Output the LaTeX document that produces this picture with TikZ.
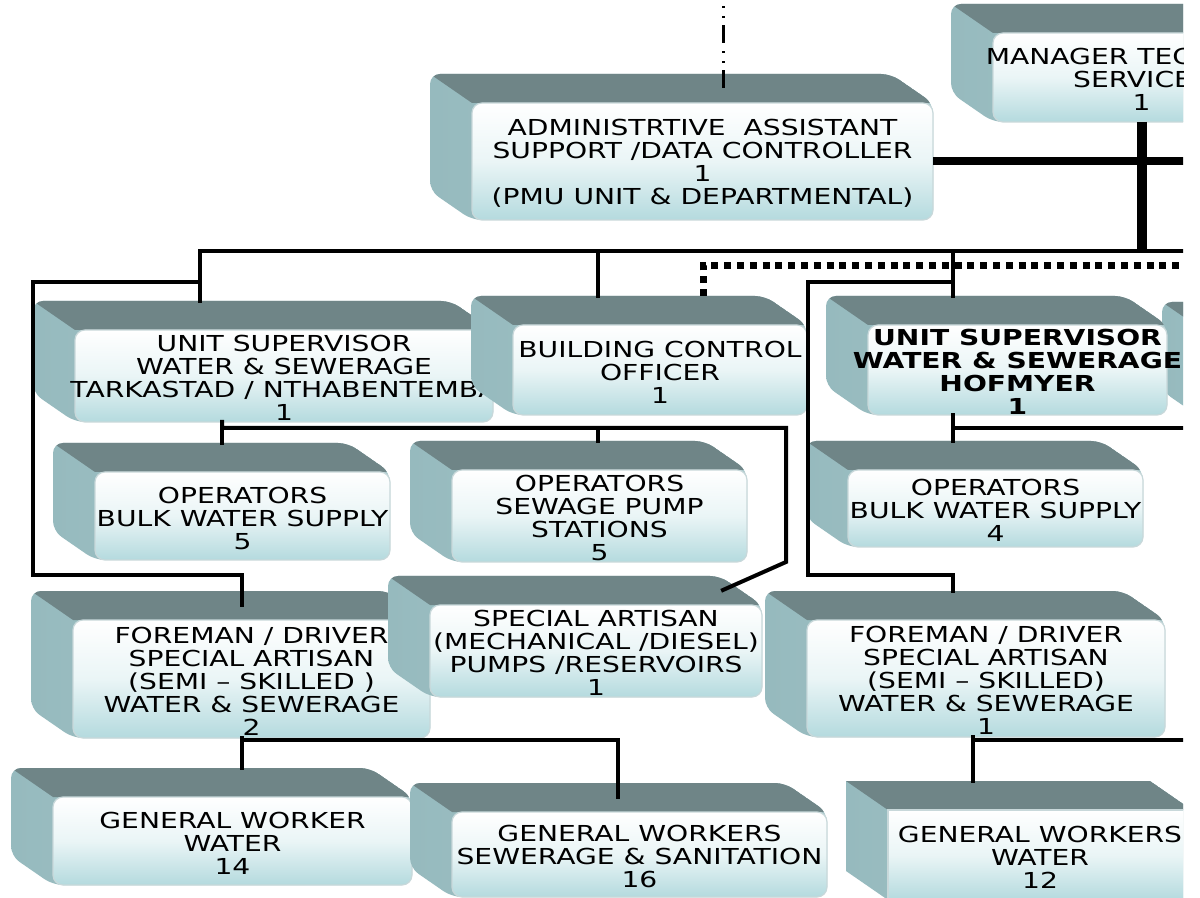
\documentclass[tikz,border=0pt]{standalone}
\usepackage{fontspec}
\setmainfont{DejaVu Sans}[FakeStretch=1.28]

% face colours of the extruded boxes
\definecolor{topface}{RGB}{111,133,135}
\definecolor{sideL}{RGB}{150,186,190}
\definecolor{sideR}{RGB}{170,200,203}
\definecolor{frontmid}{RGB}{234,245,246}
\definecolor{frontbot}{RGB}{180,218,222}
\definecolor{frontedge}{RGB}{200,216,218}

\tikzset{
  frontface/.style={top color=white, bottom color=frontbot, middle color=frontmid,
    draw=frontedge, line width=0.6pt, inner sep=0pt, outer sep=0pt},
  boxtext/.style={align=center, inner sep=0pt, text=black, yshift=-1pt,
    font=\fontsize{11pt}{11.5pt}\selectfont},
  conn/.style={line width=2pt, line cap=rect},
  heavy/.style={line width=4pt},
  heavier/.style={line width=5pt},
  dashdotline/.style={line width=1.5pt,
    dash pattern=on 9pt off 3.5pt on 1pt off 4pt on 1pt off 4pt},
  dotline/.style={line width=3.5pt, dash pattern=on 3.5pt off 2.9pt},
}

% \orgbox[corner radius]{name}{x1}{y1}{x2}{y2}{text}
% (x1,y1)-(x2,y2) is the front face; the back face sits 42 left and 29 up
\newcommand\orgbox[7][5pt]{%
  \shade[left color=sideL, right color=sideR, rounded corners=#1]
    (#3-42,#4-29) -- (#5-42,#4-29) -- (#5,#4) -- (#5,#6) -- (#3,#6) -- (#3-42,#6-29) -- cycle;
  \begin{scope}
    \clip[rounded corners=#1]
      (#3-42,#4-29) -- (#5-42,#4-29) -- (#5,#4) -- (#5,#6) -- (#3,#6) -- (#3-42,#6-29) -- cycle;
    \fill[topface] (#3-42,#4-29) -- (#5-42,#4-29) -- (#5,#4) -- (#3,#4) -- cycle;
  \end{scope}
  \coordinate (#2-back) at (#3-42,#4-29);
  \node[frontface, rounded corners=#1,
        minimum width={(#5-#3)*0.5pt}, minimum height={(#6-#4)*0.5pt}]
        (#2) at ({(#3+#5)/2},{(#4+#6)/2}) {};
  \node[boxtext] (#2-text) at (#2.center) {#7};
}

\begin{document}
\begin{tikzpicture}[x=0.5pt, y=-0.5pt]
\useasboundingbox (0,0) rectangle (1200,898);
\fill[white] (0,0) rectangle (1200,898);

\begin{scope}
\clip (0,0) rectangle (1183,898);

% ---- top row ----
\orgbox{admin}{472}{103}{933}{220}{ADMINISTRTIVE\ \ ASSISTANT\\SUPPORT /DATA CONTROLLER\\1\\(PMU UNIT \& DEPARTMENTAL)}
\orgbox{mgr}{993}{33}{1290}{122}{MANAGER TECHNICAL\\SERVICES\\1}

% ---- supervisors ----
\orgbox{tark}{75}{330}{493}{422}{UNIT SUPERVISOR\\WATER \& SEWERAGE\\TARKASTAD / NTHABENTEMBA\\1}
\orgbox{bco}{513}{325}{807}{415}{BUILDING CONTROL\\OFFICER\\1}
\orgbox{nxt}{1204}{331}{1500}{420}{}
\orgbox{hof}{868}{325}{1167}{415}{\bfseries UNIT SUPERVISOR\\\bfseries WATER \& SEWERAGE\\\bfseries HOFMYER\\\bfseries 1}

% ---- operators ----
\orgbox{opl}{95}{472}{390}{560}{OPERATORS\\BULK WATER SUPPLY\\5}
\orgbox{ops}{452}{470}{747}{562}{OPERATORS\\SEWAGE PUMP\\STATIONS\\5}
\orgbox{opr}{848}{470}{1143}{547}{OPERATORS\\BULK WATER SUPPLY\\4}

% ---- foremen and artisan ----
\orgbox{fml}{73}{620}{430}{738}{FOREMAN / DRIVER\\SPECIAL ARTISAN\\(SEMI – SKILLED )\\WATER \& SEWERAGE\\2}
\orgbox{spa}{430}{605}{762}{697}{SPECIAL ARTISAN\\(MECHANICAL /DIESEL)\\PUMPS /RESERVOIRS\\1}
\orgbox{fmr}{807}{620}{1165}{737}{FOREMAN / DRIVER\\SPECIAL ARTISAN\\(SEMI – SKILLED)\\WATER \& SEWERAGE\\1}

% ---- general workers ----
\orgbox{gw14}{53}{797}{412}{885}{GENERAL WORKER\\WATER\\14}
\orgbox{gw16}{452}{812}{827}{897}{GENERAL WORKERS\\SEWERAGE \& SANITATION\\16}
\orgbox[0pt]{gw12}{888}{810}{1192}{900}{GENERAL WORKERS\\WATER\\12}

% ---- connectors ----
\coordinate (eastEdge) at (1200,0);
\coordinate (upEnd) at (723,0);
\coordinate (adminTop) at (723,88);
\draw[dashdotline] (adminTop) -- (upEnd);

\draw[heavy] (admin.east) -- (admin.east -| eastEdge);

\coordinate (busW) at (200,251);
\draw[heavier] (mgr.south) -- (mgr.south |- busW);
\draw[conn] (busW |- tark-back) -- (busW) -- (busW -| eastEdge);
\coordinate (dB) at (598,251);
\draw[conn] (dB) -- (dB |- bco-back);
\coordinate (dH) at (953,251);
\draw[conn] (dH) -- (dH |- hof-back);

\coordinate (dotW) at (703,266);
\draw[dotline] (dotW |- bco-back) -- (dotW) -- (dotW -| eastEdge);

% left loop down to the foreman
\coordinate (lA) at (200,282);
\coordinate (lB) at (33,282);
\coordinate (lC) at (33,575);
\coordinate (lD) at (242,575);
\coordinate (lE) at (242,605);
\draw[conn] (lA) -- (lB) -- (lC) -- (lD) -- (lE);

% Tarkastad supervisor to operators and artisan
\coordinate (tA) at (222,428);
\coordinate (tB) at (786,428);
\coordinate (tC) at (786,562);
\coordinate (tD) at (723,590);
\coordinate (tS) at (598,428);
\draw[conn] (tA |- tark.south) -- (tA) -- (tB) -- (tC) -- (tD);
\draw[conn] (tA) -- (tA |- opl-back);
\draw[conn] (tS) -- (tS |- ops-back);

% right loop down to the foreman
\coordinate (rA) at (953,282);
\coordinate (rB) at (808,282);
\coordinate (rC) at (808,575);
\coordinate (rD) at (953,575);
\draw[conn] (rA) -- (rB) -- (rC) -- (rD) -- (rD |- fmr-back);

% Hofmyer supervisor to operators
\coordinate (hA) at (953,428);
\draw[conn] (hA |- hof.south) -- (hA |- opr-back);
\draw[conn] (hA) -- (hA -| eastEdge);

% foremen to general workers
\coordinate (fA) at (242,740);
\coordinate (fB) at (618,740);
\coordinate (fC) at (618,797);
\draw[conn] (fA |- fml.south) -- (fA |- gw14-back);
\draw[conn] (fA) -- (fB) -- (fC);

\coordinate (gA) at (973,740);
\draw[conn] (gA |- fmr.south) -- (gA |- gw12-back);
\draw[conn] (gA) -- (gA -| eastEdge);
\end{scope}
\end{tikzpicture}
\end{document}
